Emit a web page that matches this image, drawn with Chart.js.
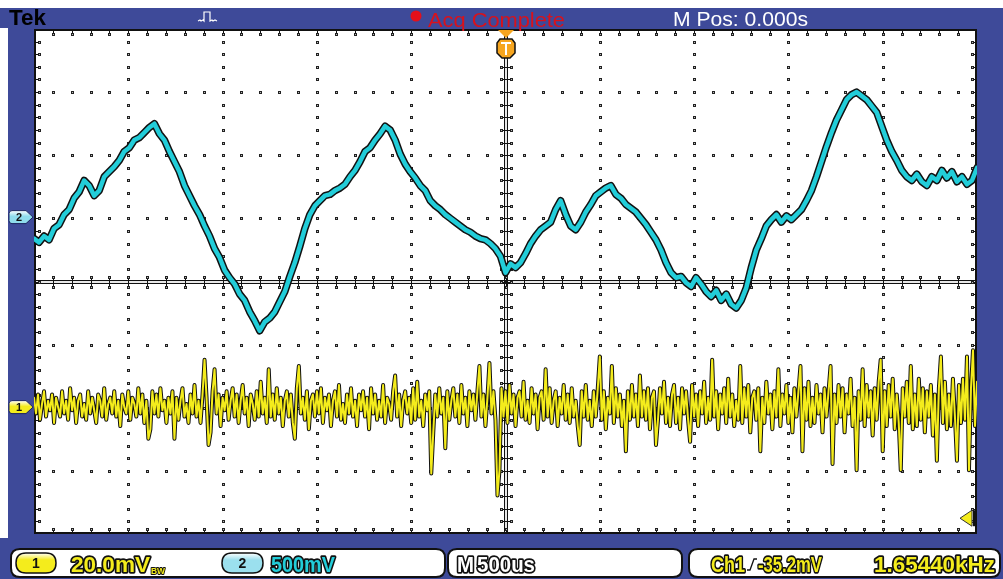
<!DOCTYPE html>
<html>
<head>
<meta charset="utf-8">
<title>Tek scope capture</title>
<script src="https://cdn.jsdelivr.net/npm/chart.js@4.4.1/dist/chart.umd.min.js"></script>
<style>
  html, body { margin: 0; padding: 0; background: #ffffff; overflow: hidden; }
  #wrap { width: 1003px; height: 579px; position: relative; }
  canvas { display: block; }
</style>
</head>
<body>
<div id="wrap"><canvas id="scope" width="1003" height="579"></canvas></div>
<script>
// ---- acquisition settings ----
const timePerDiv = 0.5;          // ms / div  (500 us)
const horizDivs = 10;
const vertDivs = 8;
const ch1PerDiv = 20;            // mV / div
const ch2PerDiv = 0.5;           // V / div
const ch1Position = -1.99;       // div
const ch2Position = 1.02;        // div
const triggerLevel = -35.2;      // mV on Ch1
const triggerFreq = '1.65440kHz';
const recordStart = -2.5;        // ms
const recordEnd = 2.5;           // ms

// ---- Ch2 record (V) ----
const ch2Volts = [
  -0.17,-0.20,-0.15,-0.18,-0.09,-0.06,0.02,0.06,0.15,0.20,
  0.29,0.25,0.17,0.21,0.32,0.36,0.40,0.45,0.52,0.55,
  0.61,0.63,0.67,0.71,0.74,0.66,0.61,0.52,0.44,0.36,
  0.25,0.17,0.09,0.02,-0.07,-0.15,-0.25,-0.32,-0.42,-0.48,
  -0.53,-0.61,-0.66,-0.75,-0.82,-0.90,-0.83,-0.80,-0.75,-0.67,
  -0.59,-0.47,-0.36,-0.23,-0.09,0.02,0.09,0.13,0.17,0.18,
  0.21,0.23,0.26,0.32,0.37,0.44,0.52,0.55,0.61,0.66,
  0.72,0.69,0.61,0.50,0.42,0.36,0.31,0.25,0.21,0.13,
  0.09,0.06,0.02,-0.01,-0.04,-0.07,-0.10,-0.12,-0.15,-0.17,
  -0.18,-0.21,-0.25,-0.31,-0.44,-0.37,-0.40,-0.36,-0.29,-0.21,
  -0.15,-0.10,-0.07,-0.04,0.06,0.13,0.02,-0.07,-0.10,-0.04,
  0.04,0.10,0.17,0.20,0.23,0.25,0.18,0.15,0.10,0.07,
  0.04,-0.01,-0.06,-0.12,-0.18,-0.26,-0.36,-0.44,-0.48,-0.47,
  -0.52,-0.55,-0.48,-0.53,-0.59,-0.63,-0.58,-0.66,-0.61,-0.69,
  -0.72,-0.66,-0.56,-0.40,-0.26,-0.17,-0.07,-0.02,0.02,-0.04,
  0.01,-0.02,0.02,0.06,0.13,0.21,0.32,0.44,0.56,0.67,
  0.77,0.85,0.93,0.97,0.99,0.96,0.93,0.88,0.83,0.72,
  0.61,0.52,0.45,0.37,0.32,0.29,0.34,0.28,0.25,0.32,
  0.29,0.37,0.31,0.36,0.28,0.32,0.26,0.29,0.39
];

// ---- Ch1 record (mV) ----
const ch1MilliVolts = [
  3,-2,4,-4,1,5,-3,2,-1,4,-5,3,0,-3,5,-2,2,-4,6,-1,
  3,-5,2,4,-3,1,-4,5,-2,3,-1,-5,4,2,-3,6,-4,1,3,-2,
  5,-3,2,-6,4,0,-2,5,-4,3,1,-3,6,-2,4,-5,2,-10,-7,5,
  -2,4,-3,6,-1,2,-5,3,-2,5,-10,3,-4,2,6,-3,1,-5,4,-2,
  7,-3,2,-5,4,15,3,-12,-8,5,12,-2,4,-6,3,-1,5,-4,2,6,
  -3,4,-5,2,7,-2,3,-6,4,1,-4,5,-3,8,-2,3,-5,12,-3,4,
  -4,6,-2,3,-6,2,5,-3,4,-5,-10,6,13,-2,3,-4,5,-7,2,4,
  -3,5,-2,6,-5,3,-1,4,-6,2,5,-3,7,-4,1,-5,4,-2,6,-3,
  2,-6,4,-1,5,-3,3,-7,6,-2,4,-4,2,-3,7,-5,3,1,-4,5,
  10,-3,4,-6,2,5,-2,3,-5,6,-4,8,-3,2,-6,4,-1,5,-21,-8,
  4,-3,6,-2,3,-13,5,-4,2,6,-3,4,-5,7,-2,3,-6,5,-1,4,
  -4,5,13,-3,4,-6,3,14,-2,5,-4,-28,-20,6,-3,5,-5,7,-2,4,
  -6,3,5,-3,8,-4,2,-5,6,-2,4,-7,3,5,-4,12,-3,6,-5,2,
  5,-6,3,-2,7,-4,4,-5,6,-3,2,-6,-12,5,-3,7,-4,2,-6,5,
  -3,6,16,-4,5,-7,3,-2,13,-5,6,-3,4,-6,2,-14,5,-4,7,-3,
  4,-6,10,-3,5,-4,6,-7,3,5,-12,-4,6,-2,8,-5,3,-6,4,7,
  -5,3,-7,6,-2,5,-4,-11,7,-3,4,-6,5,-2,8,-5,3,-4,15,-3,
  5,-7,4,-2,6,-5,9,-3,4,-6,2,-4,13,-5,6,-3,7,-8,3,5,
  -4,6,-14,3,-5,8,-2,4,-7,5,-3,12,-6,4,-2,7,-5,3,-8,6,
  -3,5,13,-14,6,-4,8,-6,3,-5,7,-2,4,-8,6,-3,5,13,-18,4,
  -5,7,-3,6,-8,4,-2,9,-6,3,-20,5,-4,12,-6,7,-3,5,-9,6,
  -4,8,15,-14,5,-6,7,-3,9,-7,4,-5,-20,6,-3,8,-5,13,-7,4,
  -6,9,-4,6,-8,5,-3,7,-9,4,-17,6,16,-5,8,-7,4,-6,9,-3,
  -17,7,-5,9,-4,16,-20,6,18,-6,8
];

// ---- readout text ----
const ch1Readout = '20.0mV';
const ch2Readout = '500mV';
const timebaseReadout = '500us';
const trigReadout = '-35.2mV';

// ---- colours ----
const FRAME_BLUE = '#3e4a99';
const CH1_YELLOW = '#f4ec1c';
const CH2_CYAN = '#22cdd9';

// samples are spread evenly over the record window
function toPoints(values, perDiv, position) {
  const n = values.length;
  const dt = (recordEnd - recordStart) / (n - 1);
  return values.map((v, i) => ({ x: recordStart + i * dt, y: v / perDiv + position }));
}

const ch1Points = toPoints(ch1MilliVolts, ch1PerDiv, ch1Position);
const ch2Points = toPoints(ch2Volts, ch2PerDiv, ch2Position);

const FONT = '"Liberation Sans", Arial, sans-serif';

// draw text squeezed / stretched to a given width
function fitText(ctx, text, x, base, width, size, fill, stroke, weight, lw) {
  ctx.save();
  ctx.font = `${weight || 'normal'} ${size}px ${FONT}`;
  ctx.textBaseline = 'alphabetic';
  ctx.textAlign = 'left';
  const m = ctx.measureText(text).width;
  ctx.translate(x, base);
  ctx.scale(width / m, 1);
  if (stroke) {
    ctx.lineJoin = 'round';
    ctx.lineWidth = lw || 3;
    ctx.strokeStyle = stroke;
    ctx.strokeText(text, 0, 0);
  }
  ctx.fillStyle = fill;
  ctx.fillText(text, 0, 0);
  ctx.restore();
}

function roundBox(ctx, x, y, w, h, r) {
  ctx.beginPath();
  ctx.moveTo(x + r, y);
  ctx.lineTo(x + w - r, y);
  ctx.quadraticCurveTo(x + w, y, x + w, y + r);
  ctx.lineTo(x + w, y + h - r);
  ctx.quadraticCurveTo(x + w, y + h, x + w - r, y + h);
  ctx.lineTo(x + r, y + h);
  ctx.quadraticCurveTo(x, y + h, x, y + h - r);
  ctx.lineTo(x, y + r);
  ctx.quadraticCurveTo(x, y, x + r, y);
  ctx.closePath();
}

function pill(ctx, x, y, w, h, fill, label) {
  roundBox(ctx, x, y, w, h, h / 2);
  const g = ctx.createLinearGradient(0, y, 0, y + h);
  g.addColorStop(0, '#ffffff');
  g.addColorStop(0.35, fill);
  g.addColorStop(1, fill);
  ctx.fillStyle = g;
  ctx.fill();
  ctx.lineWidth = 1.5;
  ctx.strokeStyle = '#111';
  ctx.stroke();
  ctx.fillStyle = '#111';
  ctx.font = `bold 14px ${FONT}`;
  ctx.textAlign = 'center';
  ctx.fillText(label, x + w / 2, y + h - 5);
  ctx.textAlign = 'left';
}

// ---- frame, bars and graticule ----
const scopeFrame = {
  id: 'scopeFrame',
  beforeDraw(chart) {
    const { ctx, width, height, chartArea: a } = chart;
    ctx.save();
    ctx.fillStyle = '#ffffff';
    ctx.fillRect(0, 0, width, height);
    ctx.fillStyle = FRAME_BLUE;
    ctx.fillRect(0, 8, width, height - 8);
    ctx.fillStyle = '#ffffff';
    ctx.fillRect(0, 28, 8, 510);
    ctx.fillRect(a.left, a.top, a.right - a.left, a.bottom - a.top);
    ctx.restore();
  },
  beforeDatasetsDraw(chart) {
    const { ctx, chartArea: a, scales: { x, y } } = chart;
    const xMin = recordStart;
    ctx.save();
    const dot = (px, py) => {
      const rx = Math.round(px), ry = Math.round(py);
      ctx.fillStyle = '#222';
      ctx.fillRect(rx - 1, ry - 1, 3, 3);
      ctx.fillStyle = '#bbb';
      ctx.fillRect(rx, ry, 1, 1);
    };
    // dotted division lines
    for (let i = 1; i < horizDivs; i++) {
      if (i === horizDivs / 2) continue;
      const px = x.getPixelForValue(xMin + i * timePerDiv);
      for (let k = 1; k < vertDivs * 5; k++) dot(px, y.getPixelForValue(-vertDivs / 2 + k * 0.2));
    }
    for (let j = 1; j < vertDivs; j++) {
      if (j === vertDivs / 2) continue;
      const py = y.getPixelForValue(-vertDivs / 2 + j);
      for (let k = 1; k < horizDivs * 5; k++) dot(x.getPixelForValue(xMin + k * timePerDiv / 5), py);
    }
    // centre cross with minor ticks
    const cx = x.getPixelForValue(0);
    const cy = y.getPixelForValue(0);
    ctx.fillStyle = '#111';
    ctx.fillRect(a.left, Math.round(cy) - 2, a.right - a.left, 4);
    ctx.fillRect(Math.round(cx) - 2, a.top, 4, a.bottom - a.top);
    ctx.fillStyle = '#e8e8e8';
    ctx.fillRect(a.left, Math.round(cy) - 1, a.right - a.left, 2);
    ctx.fillRect(Math.round(cx) - 1, a.top, 2, a.bottom - a.top);
    ctx.fillStyle = '#111';
    ctx.fillRect(Math.round(cx) - 2, Math.round(cy) - 2, 4, 4);
    for (let k = 1; k < horizDivs * 5; k++) {
      const px = Math.round(x.getPixelForValue(xMin + k * timePerDiv / 5));
      ctx.fillStyle = '#111';
      ctx.fillRect(px, Math.round(cy) - 5, 1, 10);
      dot(px, cy - 5);
      dot(px, cy + 5);
    }
    for (let k = 1; k < vertDivs * 5; k++) {
      const py = Math.round(y.getPixelForValue(-vertDivs / 2 + k * 0.2));
      ctx.fillStyle = '#111';
      ctx.fillRect(Math.round(cx) - 5, py, 10, 1);
      dot(cx - 5, py);
      dot(cx + 5, py);
    }
    // border with inward ticks
    ctx.strokeStyle = '#111';
    ctx.lineWidth = 2;
    ctx.strokeRect(a.left + 1, a.top + 1, a.right - a.left - 2, a.bottom - a.top - 2);
    for (let k = 1; k < horizDivs * 5; k++) {
      const px = Math.round(x.getPixelForValue(xMin + k * timePerDiv / 5));
      ctx.fillStyle = '#111';
      ctx.fillRect(px, a.top, 1, 5);
      ctx.fillRect(px, a.bottom - 5, 1, 5);
      dot(px, a.top + 5);
      dot(px, a.bottom - 5);
    }
    for (let k = 1; k < vertDivs * 5; k++) {
      const py = Math.round(y.getPixelForValue(-vertDivs / 2 + k * 0.2));
      ctx.fillStyle = '#111';
      ctx.fillRect(a.left, py, 5, 1);
      ctx.fillRect(a.right - 5, py, 5, 1);
      dot(a.left + 5, py);
      dot(a.right - 5, py);
    }
    ctx.restore();
  },
  afterDatasetsDraw(chart) {
    const { ctx, chartArea: a, scales: { x, y } } = chart;
    ctx.save();
    // channel ground markers
    const chMarker = (py, fill, label) => {
      const x0 = 9, x1 = 26, x2 = 33, h = 6.5;
      ctx.beginPath();
      ctx.moveTo(x0 + 3, py - h);
      ctx.lineTo(x1, py - h);
      ctx.lineTo(x2, py);
      ctx.lineTo(x1, py + h);
      ctx.lineTo(x0 + 3, py + h);
      ctx.quadraticCurveTo(x0, py + h, x0, py + h - 3);
      ctx.lineTo(x0, py - h + 3);
      ctx.quadraticCurveTo(x0, py - h, x0 + 3, py - h);
      ctx.closePath();
      const g = ctx.createLinearGradient(0, py - h, 0, py + h);
      g.addColorStop(0, '#ffffff');
      g.addColorStop(0.45, fill);
      g.addColorStop(1, fill);
      ctx.fillStyle = g;
      ctx.fill();
      ctx.strokeStyle = '#1c2560';
      ctx.lineWidth = 1;
      ctx.stroke();
      ctx.fillStyle = '#111';
      ctx.font = `bold 11px ${FONT}`;
      ctx.textAlign = 'center';
      ctx.fillText(label, 19, py + 4);
    };
    chMarker(y.getPixelForValue(ch2Position), '#8fdcec', '2');
    chMarker(y.getPixelForValue(ch1Position), CH1_YELLOW, '1');

    // trigger level marker on the right edge
    const ty = y.getPixelForValue(ch1Position + triggerLevel / ch1PerDiv);
    ctx.fillStyle = '#111';
    ctx.fillRect(a.right - 4, ty - 8, 4, 16);
    ctx.beginPath();
    ctx.moveTo(a.right - 17, ty);
    ctx.lineTo(a.right - 5, ty - 8);
    ctx.lineTo(a.right - 5, ty + 8);
    ctx.closePath();
    ctx.fillStyle = CH1_YELLOW;
    ctx.fill();
    ctx.strokeStyle = '#333';
    ctx.lineWidth = 1;
    ctx.stroke();

    // trigger position marker on the top edge
    const tx = Math.round(x.getPixelForValue(0));
    ctx.beginPath();
    ctx.moveTo(tx - 8, a.top + 1);
    ctx.lineTo(tx + 8, a.top + 1);
    ctx.lineTo(tx, a.top + 9);
    ctx.closePath();
    ctx.fillStyle = '#f6a51f';
    ctx.fill();
    ctx.beginPath();
    ctx.moveTo(tx - 6, a.top + 10);
    ctx.lineTo(tx + 6, a.top + 10);
    ctx.lineTo(tx + 9, a.top + 14);
    ctx.lineTo(tx + 9, a.top + 24);
    ctx.lineTo(tx + 4, a.top + 29);
    ctx.lineTo(tx - 4, a.top + 29);
    ctx.lineTo(tx - 9, a.top + 24);
    ctx.lineTo(tx - 9, a.top + 14);
    ctx.closePath();
    ctx.fillStyle = '#f6a51f';
    ctx.fill();
    ctx.strokeStyle = '#111';
    ctx.lineWidth = 1.5;
    ctx.stroke();
    ctx.fillStyle = '#ffffff';
    ctx.fillRect(tx - 5, a.top + 13, 10, 2);
    ctx.fillRect(tx - 1, a.top + 13, 2, 13);
    ctx.restore();
  },
  afterDraw(chart) {
    const { ctx } = chart;
    ctx.save();
    // ---- top status line ----
    fitText(ctx, 'Tek', 9, 25, 37, 22, '#000', null, 'bold');
    // trigger type glyph
    ctx.strokeStyle = '#ffffff';
    ctx.lineWidth = 1.2;
    ctx.beginPath();
    ctx.moveTo(198, 21); ctx.lineTo(200, 20); ctx.lineTo(201, 21); ctx.lineTo(203, 20);
    ctx.lineTo(204, 21); ctx.lineTo(204, 12); ctx.lineTo(210, 12); ctx.lineTo(210, 21);
    ctx.lineTo(212, 20); ctx.lineTo(213, 21); ctx.lineTo(215, 20); ctx.lineTo(217, 21);
    ctx.stroke();
    // acquisition state
    ctx.fillStyle = '#e3101b';
    ctx.beginPath();
    ctx.arc(416, 16, 5.5, 0, Math.PI * 2);
    ctx.fill();
    fitText(ctx, 'Acq Complete', 428, 27, 137, 21, '#d8121c', null, 'normal');
    fitText(ctx, 'M Pos: 0.000s', 673, 26, 135, 20, '#ffffff', null, 'normal');

    // ---- bottom readouts ----
    const boxes = [[11, 434], [448, 234], [689, 311]];
    boxes.forEach(([bx, bw]) => {
      roundBox(ctx, bx, 549, bw, 28, 9);
      ctx.fillStyle = '#ffffff';
      ctx.fill();
      ctx.lineWidth = 2;
      ctx.strokeStyle = '#111';
      ctx.stroke();
    });
    pill(ctx, 16, 553, 40, 20, CH1_YELLOW, '1');
    fitText(ctx, ch1Readout, 71, 572, 79, 22, CH1_YELLOW, '#111', 'bold', 3.5);
    fitText(ctx, 'BW', 151, 574, 14, 9, CH1_YELLOW, '#111', 'bold', 2);
    pill(ctx, 222, 553, 41, 20, '#9be0ee', '2');
    fitText(ctx, ch2Readout, 271, 572, 64, 22, CH2_CYAN, '#111', 'bold', 3.5);

    fitText(ctx, 'M', 457, 572, 17, 22, '#ffffff', '#111', 'bold', 3.5);
    fitText(ctx, timebaseReadout, 477, 572, 58, 22, '#ffffff', '#111', 'bold', 3.5);

    fitText(ctx, 'Ch1', 711, 572, 34, 22, CH1_YELLOW, '#111', 'bold', 3.5);
    // rising-edge slope symbol
    ctx.strokeStyle = '#111';
    ctx.lineWidth = 1.3;
    ctx.beginPath();
    ctx.moveTo(747, 570); ctx.lineTo(750, 570); ctx.lineTo(754, 559); ctx.lineTo(757, 559);
    ctx.stroke();
    fitText(ctx, trigReadout, 758, 572, 64, 22, CH1_YELLOW, '#111', 'bold', 3.5);
    fitText(ctx, triggerFreq, 874, 572, 121, 22, CH1_YELLOW, '#111', 'bold', 3.5);
    ctx.restore();
  }
};

new Chart(document.getElementById('scope'), {
  type: 'line',
  data: {
    datasets: [
      { label: 'Ch1', data: ch1Points, borderColor: CH1_YELLOW, borderWidth: 2, order: 0 },
      { label: 'Ch1 edge', data: ch1Points, borderColor: '#111111', borderWidth: 4, order: 1 },
      { label: 'Ch2', data: ch2Points, borderColor: CH2_CYAN, borderWidth: 4.5, order: 2 },
      { label: 'Ch2 edge', data: ch2Points, borderColor: '#111111', borderWidth: 7.5, order: 3 }
    ]
  },
  options: {
    responsive: false,
    devicePixelRatio: 1,
    animation: false,
    parsing: false,
    normalized: true,
    layout: { padding: { left: 34, top: 29, right: 26, bottom: 45 } },
    elements: {
      point: { radius: 0, hoverRadius: 0 },
      line: { tension: 0, fill: false, borderJoinStyle: 'round', borderCapStyle: 'round' }
    },
    plugins: { legend: { display: false }, tooltip: { enabled: false } },
    events: [],
    scales: {
      x: { type: 'linear', min: recordStart, max: recordEnd, display: false },
      y: { type: 'linear', min: -vertDivs / 2, max: vertDivs / 2, display: false }
    }
  },
  plugins: [scopeFrame]
});
</script>
</body>
</html>
